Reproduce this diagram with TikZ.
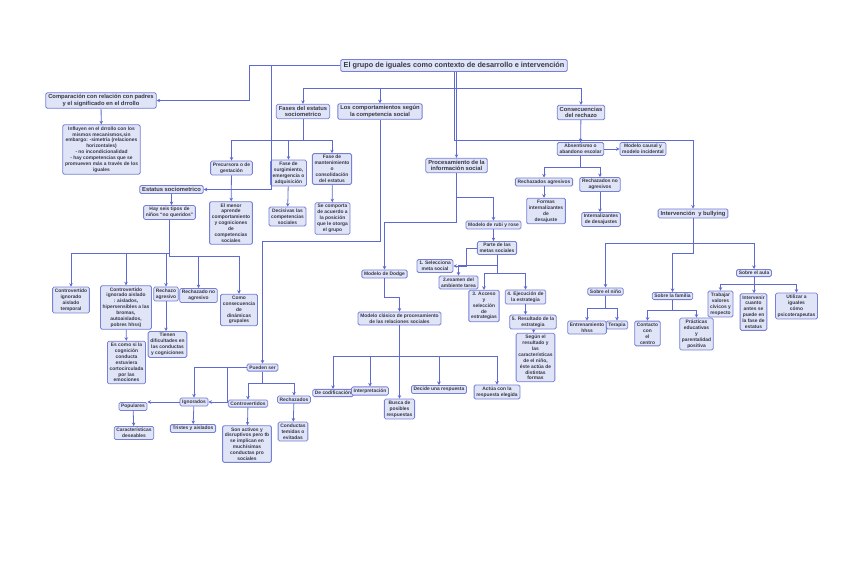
\documentclass[tikz,border=0pt]{standalone}
\usepackage{fontspec}
\setmainfont{Liberation Sans}
\usepackage{tikz}
\usetikzlibrary{arrows.meta, positioning}
\usepackage{xcolor}
\definecolor{boxFill}{RGB}{224,228,247}
\definecolor{boxDraw}{RGB}{118,128,215}
\definecolor{lineBlue}{RGB}{95,105,210}
\definecolor{textGray}{RGB}{55,55,70}

\begin{document}
\begin{tikzpicture}[
    x=1pt, y=-1pt,
    box/.style={rectangle, draw=boxDraw, fill=boxFill, rounded corners=1.5pt, line width=0.8pt, align=center, text=textGray, inner xsep=2.2pt, inner ysep=1.8pt, font=\bfseries\fontsize{4.9}{5.9}\selectfont},
    midbox/.style={box, inner xsep=2.5pt, font=\bfseries\fontsize{5.8}{6.6}\selectfont},
    titlebox/.style={box, inner xsep=3pt, inner ysep=2.5pt, font=\bfseries\fontsize{7.3}{8}\selectfont},
    arr/.style={draw=lineBlue, line width=0.8pt, -{Stealth[length=3.5pt,width=3.5pt]}}
]
\useasboundingbox (0,0) rectangle (848,583);

\node[titlebox] (title) at (454,65.5) {El grupo de iguales como contexto de desarrollo e intervención};
\node[midbox] (comp) at (101,100.5) {Comparación con relación con padres\\y el significado en el drrollo};
\node[box] (influyen) at (101.5,149.5) {Influyen en el drrollo con los\\mismos mecanismos,sin\\embargo: -simetria (relaciones\\horizontales)\\- no incondicionalidad\\- hay competencias que se\\promueven más a través de los\\iguales};
\node[midbox] (fases) at (303,111.5) {Fases del estatus\\sociometrico};
\node[midbox] (comport) at (380,111.5) {Los comportamientos según\\la competencia social};
\node[midbox] (consec) at (581,112.5) {Consecuencias\\del rechazo};
\node[box] (precursora) at (231.5,168) {Precursora o de\\gestación};
\node[box] (surgimiento) at (288.5,173) {Fase de\\surgimiento,\\emergencia o\\adquisición};
\node[box] (mantenimiento) at (332,169) {Fase de\\mantenimiento\\o\\consolidación\\del estatus};
\node[midbox] (estatus) at (171.5,189.5) {Estatus sociometrico};
\node[box] (menor) at (231,223) {El menor\\aprende\\comportamiento\\y cogniciones\\de\\competencias\\sociales};
\node[box] (decisivas) at (287.5,216.5) {Decisivas las\\competencias\\sociales};
\node[box] (secomporta) at (332.5,218.5) {Se comporta\\de acuerdo a\\la posición\\que le otorga\\el grupo};
\node[box] (seis) at (169.5,212.5) {Hay seis tipos de\\niños ``no queridos''};
\node[midbox] (procesamiento) at (456.5,165.5) {Procesamiento de la\\información social};
\node[box] (absentismo) at (580.5,149) {Absentismo o\\abandono escolar};
\node[box] (causal) at (643,149) {Modelo causal y\\modelo incidental};
\node[box] (rechagresivos) at (544,182) {Rechazados agresivos};
\node[box] (rechnoagresivos) at (600,184.5) {Rechazados no\\agresivos};
\node[box] (formas) at (546,211) {Formas\\internalizantes\\de\\desajuste};
\node[box] (internalizantes) at (601,219.5) {Internalizantes\\de desajustes};
\node[midbox] (intervencion) at (693,213.5) {Intervención\ \ y bullying};
\node[box] (rubi) at (493.5,225) {Modelo de rubi y rose};
\node[box] (metas) at (497,248) {Parte de las\\metas sociales};
\node[box] (selecciona) at (435,266) {1. Selecciona\\meta social};
\node[box] (examen) at (458.5,282.5) {2.examen del\\ambiente tarea};
\node[box] (acceso) at (484,306) {3. Acceso\\y\\selección\\de\\estrategias};
\node[box] (ejecucion) at (525.5,297) {4. Ejecución de\\la estrategia};
\node[box] (resultado) at (533,322) {5. Resultado de la\\estrategia};
\node[box] (segun) at (535.5,357.5) {Según el\\resultado y\\las\\características\\de el niño,\\éste actúa de\\distintas\\formas};
\node[box] (dodge) at (384.5,274) {Modelo de Dodge};
\node[box] (clasico) at (399.5,318.5) {Modelo clásico de procesamiento\\de las relaciones sociales};
\node[box] (codificacion) at (333,393) {De codificación};
\node[box] (interpretacion) at (370,391) {Interpretación};
\node[box] (busca) at (399.5,409) {Busca de\\posibles\\respuestas};
\node[box] (decide) at (439,389.5) {Decide una respuesta};
\node[box] (actua) at (497,392) {Actúa con la\\respuesta elegida};
\node[box] (aula) at (754,273) {Sobre el aula};
\node[box] (nino) at (605.5,291.5) {Sobre el niño};
\node[box] (familia) at (672.5,296) {Sobre la familia};
\node[box] (trabajar) at (720.5,304) {Trabajar\\valores\\cívicos y\\respecto};
\node[box] (intervenir) at (753.5,312) {Intervenir\\cuanto\\antes se\\puede en\\la fase de\\estatus};
\node[box] (utilizar) at (796.5,306) {Utilizar a\\iguales\\cómo\\psicoterapeutas};
\node[box] (entrenamiento) at (587,327.5) {Entrenamiento\\hhss};
\node[box] (terapia) at (617,325) {Terapia};
\node[box] (contacto) at (647.5,333.5) {Contacto\\con\\el\\centro};
\node[box] (practicas) at (696.5,334) {Prácticas\\educativas\\y\\parentalidad\\positiva};
\node[box] (temporal) at (71,300) {Controvertido\\ignorado\\aislado\\temporal};
\node[box] (aislado) at (126,307.5) {Controvertido\\ignorado aislado\\: aislados,\\hipersensibles a las\\bromas,\\autoaislados,\\pobres hhss)};
\node[box] (rechazoagr) at (166,294) {Rechazo\\agresivo};
\node[box] (rechazonoagr) at (198.5,295.5) {Rechazado no\\agresivo};
\node[box] (dinamicas) at (239,310) {Como\\consecuencia\\de\\dinámicas\\grupales};
\node[box] (escomo) at (126.5,362.5) {Es como si la\\cognición\\conducta\\estuviera\\cortocirculada\\por las\\emociones};
\node[box] (tienen) at (167.5,344.5) {Tienen\\dificultades en\\las conductas\\y cogniciones};
\node[box] (pueden) at (262.5,367.5) {Pueden ser};
\node[box] (ignorados) at (194,402) {Ignorados};
\node[box] (populares) at (133,406.5) {Populares};
\node[box] (deseables) at (134,433) {Características\\deseables};
\node[box] (tristes) at (193,428.5) {Tristes y aislados};
\node[box] (controvertidos) at (248,403.5) {Controvertidos};
\node[box] (activos) at (247,444) {Son activos y\\disruptivos pero tb\\se implican en\\muchísimas\\conductas pro\\sociales};
\node[box] (rechazados) at (294,399.5) {Rechazados};
\node[box] (temidas) at (293,431.5) {Conductas\\temidas o\\evitadas};

\draw[arr] (title.west) -- (249,65.5) |- (comp.east);
\draw[arr] (title.west) -- (271,65.5) |- (estatus.east);
\draw[arr] (comp) -- (influyen);
\draw[arr] (title.south) |- (303,88) -- (fases.north);
\draw[arr] (title.south) |- (380,88) -- (comport.north);
\draw[arr] (title.south) |- (581,88) -- (consec.north);
\draw[arr] (title.south) |- (693,140) -- (intervencion.north);
\draw[arr] (title.south -| procesamiento.north) -- (procesamiento.north);

\draw[arr] (fases.south) |- (231.5,140) -- (precursora.north);
\draw[arr] (fases.south) |- (288.5,140) -- (surgimiento.north);
\draw[arr] (fases.south) |- (332,140) -- (mantenimiento.north);
\draw[arr] (precursora) -- (menor);
\draw[arr] (surgimiento) -- (decisivas);
\draw[arr] (mantenimiento) -- (secomporta);

\draw[arr] (comport.south) |- (262.5,241) -- (pueden.north);

\draw[arr] (estatus.south) -- (estatus.south |- seis.north);
\draw[arr] (seis.south) |- (71,253) -- (temporal.north);
\draw[arr] (seis.south) |- (126,253) -- (aislado.north);
\draw[arr] (seis.south) |- (166,253) -- (rechazoagr.north);
\draw[arr] (seis.south) |- (198.5,256) -- (rechazonoagr.north);
\draw[arr] (seis.south) |- (239,256) -- (dinamicas.north);
\draw[arr] (aislado) -- (escomo);
\draw[arr] (rechazoagr.south) -- (rechazoagr.south |- tienen.north);

\draw[arr] (consec) -- (absentismo);
\draw[arr] (absentismo) -- (causal);
\draw[arr] (absentismo.south) |- (544,167) -- (rechagresivos.north);
\draw[arr] (absentismo.south) |- (600,167) -- (rechnoagresivos.north);
\draw[arr] (rechagresivos.south) -- (rechagresivos.south |- formas.north);
\draw[arr] (rechnoagresivos.south) -- (rechnoagresivos.south |- internalizantes.north);

\draw[arr] (procesamiento.south) |- (493.5,197) -- (rubi.north);
\draw[arr] (procesamiento.south) |- (384.5,222) -- (dodge.north);
\draw[arr] (dodge.south) |- (399.5,297) -- (clasico.north);
\draw[arr] (rubi.south) -- (rubi.south |- metas.north);
\draw[arr] (metas.west) -- (466,248) |- (selecciona.east);
\draw[arr] (metas.south) |- (458.5,265) -- (examen.north);
\draw[arr] (metas.south) |- (484,273) -- (acceso.north);
\draw[arr] (metas.south) |- (525.5,273) -- (ejecucion.north);
\draw[arr] (ejecucion.south) -- (ejecucion.south |- resultado.north);
\draw[arr] (resultado) -- (segun);

\draw[arr] (clasico.south) |- (333,356) -- (codificacion.north);
\draw[arr] (clasico.south) |- (370,356) -- (interpretacion.north);
\draw[arr] (clasico.south) -- (busca.north);
\draw[arr] (clasico.south) |- (439,356) -- (decide.north);
\draw[arr] (clasico.south) |- (497,356) -- (actua.north);

\draw[arr] (intervencion.south) |- (605.5,243) -- (nino.north);
\draw[arr] (intervencion.south) |- (754,243) -- (aula.north);
\draw[arr] (intervencion.south) |- (672.5,253) -- (familia.north);
\draw[arr] (aula.south) |- (720.5,284) -- (trabajar.north);
\draw[arr] (aula.south) -- (intervenir.north -| aula.south);
\draw[arr] (aula.south) |- (796.5,284) -- (utilizar.north);
\draw[arr] (nino.south) |- (587,308) -- (entrenamiento.north);
\draw[arr] (nino.south) |- (617,308) -- (terapia.north);
\draw[arr] (familia.south) |- (647.5,310) -- (contacto.north);
\draw[arr] (familia.south) |- (696.5,310) -- (practicas.north);

\draw[arr] (pueden.west) -| (ignorados.north);
\draw[arr] (pueden.west) -- (227,367.5) |- (ignorados.east);
\draw[arr] (pueden.south) |- (248,383) -- (controvertidos.north);
\draw[arr] (pueden.south) |- (294,383) -- (rechazados.north);
\draw[arr] (ignorados.west) -- (ignorados.west -| populares.east);
\draw[arr] (ignorados) -- (tristes);
\draw[arr] (populares) -- (deseables);
\draw[arr] (controvertidos) -- (activos);
\draw[arr] (rechazados) -- (temidas);
\end{tikzpicture}
\end{document}
